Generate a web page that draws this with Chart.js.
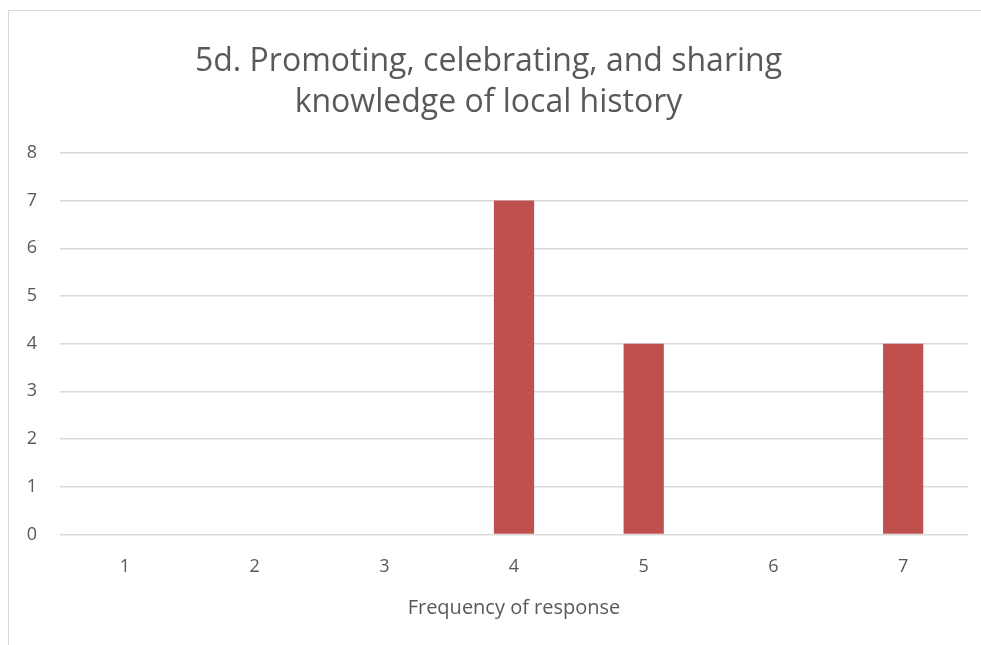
<!DOCTYPE html>
<html>
<head>
<meta charset="utf-8">
<script src="https://cdn.jsdelivr.net/npm/chart.js@4/dist/chart.umd.min.js"></script>
<style>
  html, body { margin: 0; padding: 0; background: #fff; }
  #frame {
    position: absolute; left: 8px; top: 10px;
    width: 973px; height: 635px;
    border-left: 1px solid #d9d9d9; border-top: 1px solid #d9d9d9;
  }
</style>
</head>
<body>
<div id="frame"><canvas id="chart"></canvas></div>
<script>
// data
const categories = ['1', '2', '3', '4', '5', '6', '7'];
const counts = [0, 0, 0, 7, 4, 0, 4];
const titleLines = ['5d. Promoting, celebrating, and sharing', 'knowledge of local history'];
const xTitle = 'Frequency of response';

const txt = '#595959';
const font = 'Open Sans';

const myChart = new Chart(document.getElementById('chart'), {
    type: 'bar',
    data: {
        labels: categories,
        datasets: [{
            data: counts,
            backgroundColor: '#c0504d',
            barPercentage: 0.62,
            categoryPercentage: 0.5
        }]
    },
    options: {
        responsive: true,
        maintainAspectRatio: false,
        animation: false,
        layout: { padding: { top: 30, right: 14, bottom: 22, left: 0 } },
        plugins: {
            legend: { display: false },
            tooltip: { enabled: false },
            title: {
                display: true,
                text: titleLines,
                color: txt,
                font: { family: font, size: 32, weight: 'normal', lineHeight: 1.28 },
                padding: { top: 0, bottom: 30 }
            }
        },
        scales: {
            x: {
                grid: { display: false },
                border: { display: false },
                ticks: { color: txt, font: { family: font, size: 18 }, padding: 14 },
                title: {
                    display: true,
                    text: xTitle,
                    color: txt,
                    font: { family: font, size: 20 },
                    padding: { top: 4 }
                }
            },
            y: {
                min: 0,
                max: 8,
                grid: { color: '#d9d9d9', lineWidth: 1.5, drawTicks: false },
                border: { display: false },
                ticks: { stepSize: 1, color: txt, font: { family: font, size: 18 }, padding: 23 },
                afterFit: function (scale) { scale.width = 51; }
            }
        }
    }
});
</script>
</body>
</html>
